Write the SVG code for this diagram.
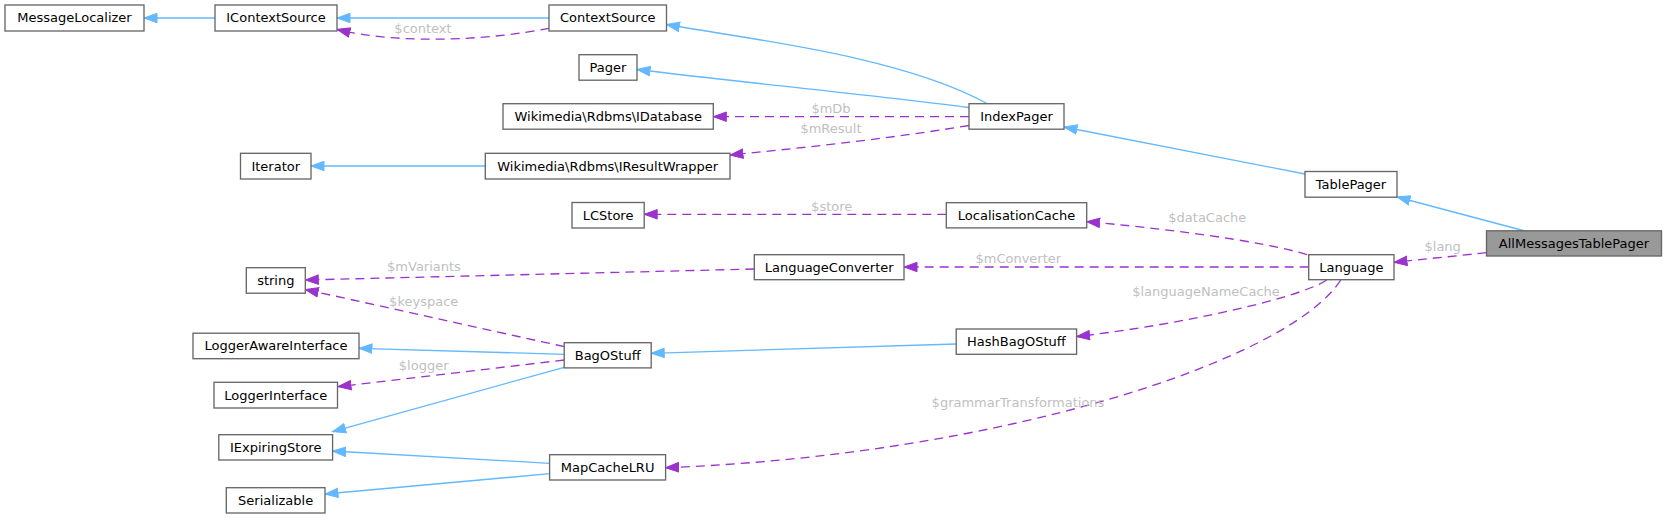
<svg xmlns="http://www.w3.org/2000/svg" width="1667" height="519" viewBox="0 0 1667 519">
<style>
.node rect{fill:#ffffff;stroke:#666666;stroke-width:1.33}
.node.cur rect{fill:#999999}
.node text{font-family:"DejaVu Sans","Liberation Sans",sans-serif;font-size:13px;text-anchor:middle;fill:#000000}
.inh{fill:none;stroke:#63b8ff;stroke-width:1.33}
.use{fill:none;stroke:#9a32cd;stroke-width:1.33;stroke-dasharray:9,6}
.lbl{font-family:"DejaVu Sans","Liberation Sans",sans-serif;font-size:13px;text-anchor:middle;fill:#bfbfbf}
</style>
<defs>
<marker id="arrB" markerUnits="userSpaceOnUse" markerWidth="15" markerHeight="12" refX="13.5" refY="5.5" orient="auto">
<path d="M0.5,0.8 L13.5,5.5 L0.5,10.2 z" fill="#63b8ff" stroke="#63b8ff" stroke-width="1"/>
</marker>
<marker id="arrP" markerUnits="userSpaceOnUse" markerWidth="15" markerHeight="12" refX="13.5" refY="5.5" orient="auto">
<path d="M0.5,0.8 L13.5,5.5 L0.5,10.2 z" fill="#9a32cd" stroke="#9a32cd" stroke-width="1"/>
</marker>
</defs>
<g id="edges">
<path class="inh" marker-end="url(#arrB)" d="M215,18 L144,18"/>
<path class="inh" marker-end="url(#arrB)" d="M549,18 L337,18"/>
<path class="inh" marker-end="url(#arrB)" d="M988,104 C900,55 740,38 666.5,24.5"/>
<path class="inh" marker-end="url(#arrB)" d="M969,107.5 C870,95 740,82 637,69.5"/>
<path class="inh" marker-end="url(#arrB)" d="M1305,174 L1064,127"/>
<path class="inh" marker-end="url(#arrB)" d="M1525,231 L1397,197"/>
<path class="inh" marker-end="url(#arrB)" d="M485.3,166 L311,166"/>
<path class="inh" marker-end="url(#arrB)" d="M564.2,354.3 L359,348.3"/>
<path class="inh" marker-end="url(#arrB)" d="M564.2,367.3 L332.6,431.7"/>
<path class="inh" marker-end="url(#arrB)" d="M549.6,463.3 L332.6,451"/>
<path class="inh" marker-end="url(#arrB)" d="M549.6,473.7 L325,494"/>
<path class="inh" marker-end="url(#arrB)" d="M956.2,344 L651.2,353.3"/>
<path class="use" marker-end="url(#arrP)" d="M549,28.3 C490,40 400,45 337,29.3"/>
<text class="lbl" x="423" y="32.5">$context</text>
<path class="use" marker-end="url(#arrP)" d="M969,116.7 L713.3,116.7"/>
<text class="lbl" x="831" y="113">$mDb</text>
<path class="use" marker-end="url(#arrP)" d="M969,125.5 C880,140 800,148 730,155"/>
<text class="lbl" x="831" y="132.5">$mResult</text>
<path class="use" marker-end="url(#arrP)" d="M946.3,214.3 L644.2,214.3"/>
<text class="lbl" x="831.7" y="211">$store</text>
<path class="use" marker-end="url(#arrP)" d="M1307,254.7 C1260,240 1150,227 1086.7,221.7"/>
<text class="lbl" x="1207.3" y="221.5">$dataCache</text>
<path class="use" marker-end="url(#arrP)" d="M1308.7,267 L904,267"/>
<text class="lbl" x="1018.3" y="263">$mConverter</text>
<path class="use" marker-end="url(#arrP)" d="M1486.5,252.7 L1394,262.3"/>
<text class="lbl" x="1442.7" y="251">$lang</text>
<path class="use" marker-end="url(#arrP)" d="M754.3,269 L305.3,280"/>
<text class="lbl" x="424" y="271">$mVariants</text>
<path class="use" marker-end="url(#arrP)" d="M564.5,346.7 L305.3,289.5"/>
<text class="lbl" x="423.7" y="306">$keyspace</text>
<path class="use" marker-end="url(#arrP)" d="M564.2,360 L338,386.7"/>
<text class="lbl" x="423.7" y="370">$logger</text>
<path class="use" marker-end="url(#arrP)" d="M1326.7,280 C1300,298 1180,325 1076.6,336.5"/>
<text class="lbl" x="1206" y="296">$languageNameCache</text>
<path class="use" marker-end="url(#arrP)" d="M1340.7,280 C1290,360 1000,455 665.6,467.7"/>
<text class="lbl" x="1018" y="407">$grammarTransformations</text>
</g>
<g id="MessageLocalizer" class="node"><rect x="5" y="5" width="139" height="26"/><text x="74.5" y="22.3">MessageLocalizer</text></g>
<g id="IContextSource" class="node"><rect x="215" y="5" width="122" height="26"/><text x="276" y="22.3">IContextSource</text></g>
<g id="ContextSource" class="node"><rect x="549" y="5" width="117.5" height="26"/><text x="607.75" y="22.3">ContextSource</text></g>
<g id="Pager" class="node"><rect x="579" y="54.7" width="58" height="25.5"/><text x="608" y="71.7">Pager</text></g>
<g id="IDatabase" class="node"><rect x="503" y="103.7" width="210.3" height="25.5"/><text x="608.2" y="120.7">Wikimedia\Rdbms\IDatabase</text></g>
<g id="Iterator" class="node"><rect x="240.5" y="153.3" width="70.5" height="25.7"/><text x="275.75" y="170.5">Iterator</text></g>
<g id="IResultWrapper" class="node"><rect x="485.3" y="153.3" width="244.7" height="25.7"/><text x="607.7" y="170.5">Wikimedia\Rdbms\IResultWrapper</text></g>
<g id="IndexPager" class="node"><rect x="969" y="103.7" width="95" height="25.5"/><text x="1016.5" y="120.7">IndexPager</text></g>
<g id="TablePager" class="node"><rect x="1305" y="171.5" width="92" height="25.7"/><text x="1351" y="188.6">TablePager</text></g>
<g id="LocalisationCache" class="node"><rect x="946.3" y="202.7" width="140.4" height="25.2"/><text x="1016.5" y="219.6">LocalisationCache</text></g>
<g id="LCStore" class="node"><rect x="572" y="202.5" width="72.2" height="25.5"/><text x="608.1" y="219.5">LCStore</text></g>
<g id="AllMessagesTablePager" class="node cur"><rect x="1486.5" y="230.8" width="175" height="25.2"/><text x="1574" y="247.7">AllMessagesTablePager</text></g>
<g id="Language" class="node"><rect x="1308.7" y="254.7" width="85.3" height="25"/><text x="1351.35" y="271.5">Language</text></g>
<g id="LanguageConverter" class="node"><rect x="754.3" y="254.7" width="149.7" height="25"/><text x="829.15" y="271.5">LanguageConverter</text></g>
<g id="string" class="node"><rect x="246.3" y="267.7" width="59" height="25.5"/><text x="275.8" y="284.7">string</text></g>
<g id="LoggerAwareInterface" class="node"><rect x="193" y="333.2" width="166" height="25.5"/><text x="276" y="350.2">LoggerAwareInterface</text></g>
<g id="BagOStuff" class="node"><rect x="564.2" y="342.7" width="87" height="25.2"/><text x="607.7" y="359.6">BagOStuff</text></g>
<g id="HashBagOStuff" class="node"><rect x="956.2" y="329" width="120.4" height="25.3"/><text x="1016.4" y="345.9">HashBagOStuff</text></g>
<g id="LoggerInterface" class="node"><rect x="214" y="382.3" width="123.5" height="25.7"/><text x="275.75" y="399.5">LoggerInterface</text></g>
<g id="IExpiringStore" class="node"><rect x="218.8" y="434.7" width="113.8" height="25.3"/><text x="275.7" y="451.6">IExpiringStore</text></g>
<g id="MapCacheLRU" class="node"><rect x="549.6" y="454.7" width="116" height="25.3"/><text x="607.6" y="471.6">MapCacheLRU</text></g>
<g id="Serializable" class="node"><rect x="226.3" y="487.7" width="98.7" height="25.3"/><text x="275.65" y="504.6">Serializable</text></g>
</svg>
